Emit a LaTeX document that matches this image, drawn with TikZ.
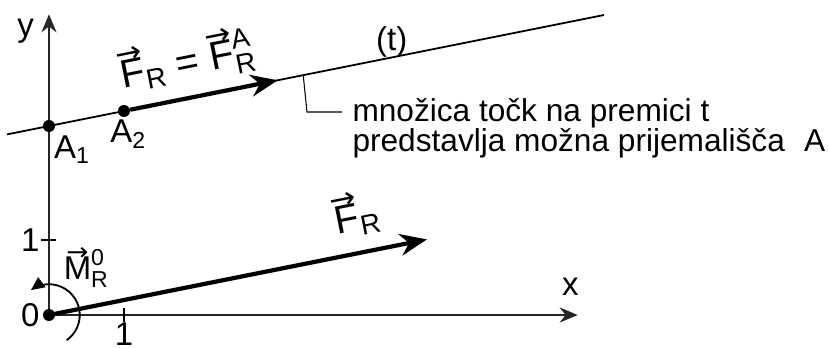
\documentclass[tikz,border=0pt]{standalone}
\usepackage{amsmath}
\usepackage{fontspec}
\setmainfont{Liberation Sans}
\newfontfamily\arrfont{DejaVu Sans}
\usetikzlibrary{arrows.meta,calc,positioning}
\newcommand{\vecl}[1]{\text{\ooalign{#1\cr\hidewidth\raisebox{0.6em}{\scalebox{0.8}[0.75]{\arrfont →}}\hidewidth\cr}}}

\begin{document}
\begin{tikzpicture}[
    axis/.style={-{Stealth[length=2.4mm,width=2mm]},line width=0.9pt,draw=black!85},
    force/.style={-{Stealth[length=3.6mm,width=2.9mm]},line width=1.6pt},
    lbl/.style={font=\fontsize{12.5}{14}\selectfont,inner sep=1pt},
    vlbl/.style={font=\fontsize{15}{17}\selectfont,inner sep=1pt,rotate=11.3},
    dot/.style={circle,fill,inner sep=0pt,minimum size=1.6mm}
  ]
  \useasboundingbox (-0.653,-0.427) rectangle (10.387,4.2);
  \coordinate (O) at (0,0);
  \coordinate (xend) at (7.05,0);
  \coordinate (yend) at (0,4.01);
  \coordinate (tstart) at (-0.56,2.408);
  \coordinate (tend) at (7.4,4.0);
  \coordinate (Ftip) at (5.04,1.008);
  \coordinate (Atip) at (3.05,3.13);
  \coordinate (lead1) at (3.39,3.198);
  \coordinate (lead2) at (3.44,2.707);
  \coordinate (lead3) at (3.907,2.707);
  \coordinate (xtick) at (1,0);
  \coordinate (ytick) at (0,1);
  \coordinate (mstart) at (-55:0.41);

  \draw[axis] (O) -- (xend);
  \draw[axis] (O) -- (yend);
  \draw[line width=0.6pt] (xtick) ++(0,-0.09) -- ++(0,0.18);
  \draw[line width=0.6pt] (ytick) ++(-0.1,0) -- ++(0.2,0);
  \draw[line width=0.7pt] (tstart) -- (tend);

  \node[dot] (O0) at (O) {};
  \node[dot] (A1) at (0,2.52) {};
  \node[dot] (A2) at (1,2.72) {};

  \draw[force] (A2) -- (Atip);
  \draw[force] (O0.center) -- (Ftip);
  \draw[line width=0.7pt,-{Triangle[length=1.8mm,width=1.6mm]}] (mstart)
    arc[start angle=-55,end angle=126,radius=0.41];
  \draw[line width=0.4pt] (lead1) -- (lead2) -- (lead3);

  \node[lbl] (ylab) at (-0.31,3.78) {y};
  \node[lbl] (xlab) at (6.95,0.37) {x};
  \node[lbl] (tlab) at (4.57,3.64) {(t)};
  \node[lbl] (a1lab) at (0.31,2.21) {A$_{\text{1}}$};
  \node[lbl] (a2lab) at (1.06,2.41) {A$_{\text{2}}$};
  \node[lbl] (one1) at (-0.25,1.0) {1};
  \node[lbl] (one2) at (1.0,-0.25) {1};
  \node[lbl] (zero) at (-0.25,0) {0};
  \node[lbl] (mlab) at (0.5,0.62) {$\vecl{M}_{\text{R}}^{\text{0}}$};
  \node[vlbl] (frlab) at (4.12,1.27) {$\vecl{F}_{\text{R}}$};
  \node[vlbl] (falab) at (1.85,3.37) {$\vecl{F}_{\text{R}}$ = $\vecl{F}_{\text{R}}^{\text{A}}$};
  \node[anchor=north west,align=left,inner sep=0pt,font=\fontsize{12}{11.5}\selectfont] (note) at (4.04,2.9)
    {množica točk na premici t\\predstavlja možna prijemališča\hspace{4pt} A};
\end{tikzpicture}
\end{document}
